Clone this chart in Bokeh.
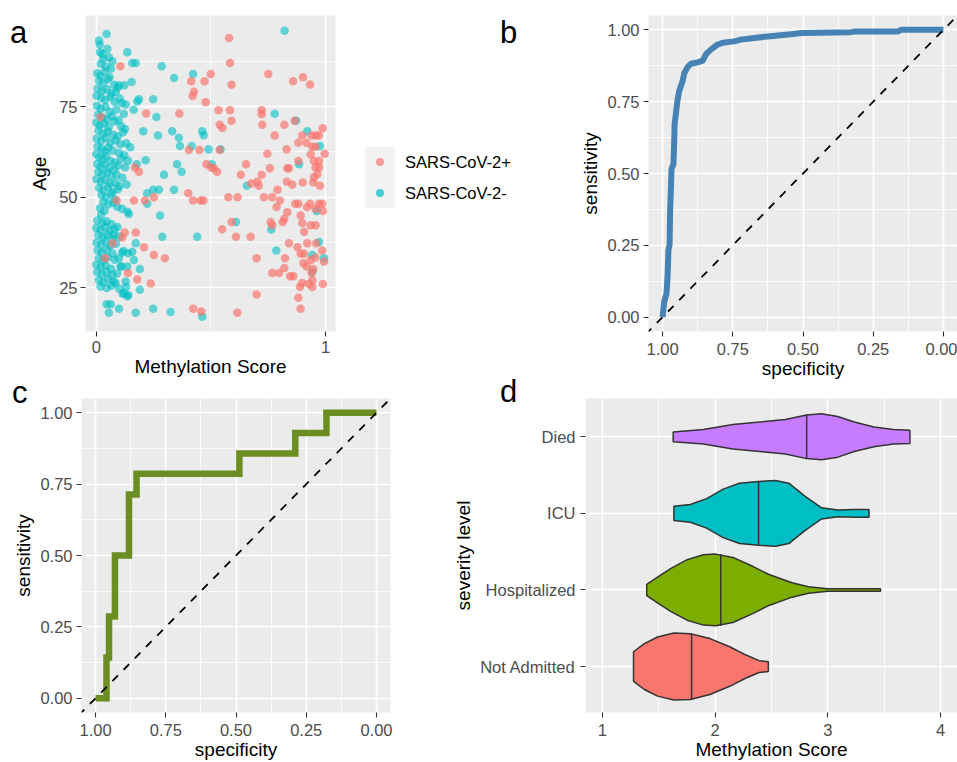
from bokeh.plotting import figure
from bokeh.layouts import row, column
from bokeh.models import Range1d, FixedTicker, PrintfTickFormatter, Div
from bokeh.embed import file_html
from bokeh.resources import INLINE

# ---------------- data ----------------
# Panel a: SARS-CoV-2 positive (red)
pos_x = [0.579, 0.583, 0.590, 0.499, 0.472, 0.414, 0.426, 0.420, 0.477, 0.105, 0.750, 0.858, 0.901, 0.932,
         0.019, 0.217, 0.362, 0.533, 0.583, 0.590, 0.538, 0.550, 0.721, 0.721, 0.724, 0.778, 0.820, 0.865,
         0.898, 0.916, 0.939, 0.956, 0.970, 0.987, 0.881, 0.830, 0.746, 0.404, 0.450, 0.538, 0.942, 0.956,
         0.935, 0.949, 0.971, 0.996, 0.881, 0.653, 0.757, 0.833, 0.840, 0.480, 0.501, 0.513, 0.527, 0.169,
         0.186, 0.630, 0.721, 0.702, 0.676, 0.708, 0.831, 0.855, 0.900, 0.946, 0.975, 0.956, 0.964, 0.949,
         0.971, 0.790, 0.731, 0.767, 0.801, 0.786, 0.576, 0.616, 0.401, 0.422, 0.455, 0.467, 0.251, 0.212,
         0.164, 0.089, 0.868, 0.881, 0.932, 0.971, 0.985, 0.919, 0.956, 0.988, 0.833, 0.820, 0.813, 0.760,
         0.767, 0.891, 0.898, 0.935, 0.956, 0.906, 0.549, 0.590, 0.609, 0.673, 0.172, 0.124, 0.113, 0.071,
         0.840, 0.877, 0.920, 0.959, 0.985, 0.891, 0.906, 0.935, 0.956, 0.993, 0.903, 0.917, 0.946, 0.939,
         0.823, 0.820, 0.797, 0.767, 0.845, 0.859, 0.699, 0.299, 0.251, 0.208, 0.038, 0.179, 0.138, 0.237,
         0.942, 0.927, 0.898, 0.942, 0.988, 0.888, 0.881, 0.699, 0.891, 0.423, 0.458, 0.615]
pos_y = [93.9, 87.0, 81.0, 84.0, 82.0, 82.0, 79.1, 77.9, 76.2, 86.1, 84.0, 82.0, 83.1, 81.1,
         72.1, 73.1, 73.1, 74.0, 74.0, 71.1, 70.0, 69.1, 74.0, 72.9, 70.0, 67.0, 70.0, 71.1,
         67.0, 65.0, 67.0, 67.0, 67.0, 69.0, 65.0, 63.2, 62.0, 63.0, 63.0, 63.0, 63.9, 63.9,
         61.8, 60.0, 60.0, 62.0, 60.0, 59.1, 58.0, 58.0, 58.0, 59.1, 58.2, 57.9, 57.0, 58.2,
         57.0, 56.2, 56.2, 54.3, 53.8, 53.2, 54.3, 53.5, 54.1, 54.1, 53.2, 58.2, 56.4, 55.5,
         58.2, 52.1, 50.0, 50.0, 49.1, 47.3, 50.0, 50.0, 51.1, 49.1, 49.1, 49.1, 50.0, 49.1,
         49.1, 49.1, 48.2, 48.2, 48.2, 48.2, 48.2, 47.3, 46.8, 46.2, 45.9, 44.1, 43.2, 43.2,
         42.3, 45.0, 42.9, 42.3, 42.3, 40.5, 41.2, 43.2, 39.1, 39.1, 40.3, 40.3, 38.9, 37.3,
         37.3, 36.2, 37.3, 37.3, 35.3, 34.4, 34.4, 32.7, 33.4, 32.3, 31.8, 30.9, 30.2, 29.1,
         33.2, 30.5, 29.1, 29.1, 28.2, 28.2, 33.2, 33.2, 34.1, 36.2, 33.2, 27.3, 29.1, 26.2,
         27.1, 26.1, 26.4, 25.3, 26.1, 25.3, 22.3, 23.2, 19.3, 19.3, 18.5, 18.2]

# Panel a: SARS-CoV-2 negative (cyan)
neg_x = [0.821, 0.045, 0.012, 0.015, 0.016, 0.026, 0.048, 0.135, 0.157, 0.172, 0.285, 0.339, 0.422, 0.154,
         0.099, 0.122, 0.186, 0.179, 0.163, 0.248, 0.262, 0.205, 0.269, 0.331, 0.360, 0.365, 0.462, 0.468,
         0.416, 0.490, 0.542, 0.778, 0.871, 0.920, 0.975, 0.884, 0.215, 0.176, 0.295, 0.352, 0.372, 0.339,
         0.273, 0.248, 0.222, 0.222, 0.503, 0.656, 0.278, 0.288, 0.440, 0.609, 0.763, 0.785, 0.971, 0.942,
         0.993, 0.962, 0.942, 0.172, 0.157, 0.164, 0.190, 0.190, 0.128, 0.121, 0.135, 0.084, 0.248, 0.324,
         0.462, 0.172, 0.099, 0.063, 0.045, 0.055, 0.113, 0.099, 0.106, 0.135, 0.092, 0.077,
         0.030, 0.055, 0.070, 0.020, 0.042, 0.064, 0.004, 0.018, 0.036, 0.058,
         0.012, 0.030, 0.050, 0.078, 0.092, 0.006, 0.026, 0.047, 0.066, 0.085, 0.001, 0.021, 0.039, 0.061,
         0.080, 0.102, 0.112, 0.128,
         0.003, 0.019, 0.040, 0.058, 0.088, 0.120, 0.008, 0.027, 0.046, 0.068, 0.097, 0.000, 0.014, 0.034,
         0.054, 0.079, 0.108, 0.125,
         0.010, 0.030, 0.050, 0.073, 0.094, 0.117, 0.002, 0.021, 0.041, 0.061, 0.084, 0.105, 0.131, 0.148,
         0.006, 0.024, 0.037, 0.052, 0.071, 0.099, 0.122,
         0.000, 0.013, 0.028, 0.044, 0.062, 0.082, 0.109, 0.138, 0.004, 0.019, 0.036, 0.056, 0.077, 0.095,
         0.126, 0.009, 0.027, 0.047, 0.066, 0.089, 0.114,
         0.001, 0.020, 0.038, 0.060, 0.083, 0.101, 0.012, 0.030, 0.051, 0.072, 0.094, 0.132, 0.022, 0.043,
         0.063, 0.081, 0.031, 0.052, 0.074, 0.091,
         0.016, 0.036, 0.112, 0.136, 0.021, 0.142, 0.005, 0.026, 0.044, 0.066, 0.000, 0.019, 0.039, 0.058,
         0.079,
         0.009, 0.029, 0.048, 0.069, 0.100, 0.001, 0.021, 0.040, 0.061, 0.086, 0.006, 0.024, 0.046, 0.071,
         0.119, 0.139, 0.011, 0.031, 0.050, 0.080,
         0.000, 0.020, 0.041, 0.064, 0.110, 0.004, 0.025, 0.045, 0.070, 0.091, 0.011, 0.030, 0.051, 0.075,
         0.018, 0.046, 0.066, 0.100, 0.130, 0.115, 0.140]
neg_y = [95.9, 95.0, 93.2, 92.1, 90.0, 89.5, 90.9, 90.0, 87.0, 87.0, 86.1, 82.9, 84.0, 81.8,
         80.9, 80.9, 77.0, 76.4, 74.1, 77.0, 72.1, 68.2, 67.0, 68.2, 66.4, 64.1, 68.2, 67.1,
         64.1, 63.2, 63.2, 73.0, 71.1, 68.2, 64.1, 59.1, 60.2, 59.1, 56.2, 59.1, 57.0, 52.1,
         52.1, 52.1, 51.1, 48.2, 59.1, 53.2, 45.0, 39.1, 39.1, 43.2, 41.1, 35.3, 37.7, 34.1,
         33.2, 46.2, 29.5, 37.3, 35.0, 32.7, 30.2, 24.5, 26.8, 23.6, 22.7, 26.4, 19.3, 18.4,
         17.1, 18.2, 19.3, 20.5, 20.5, 18.2, 34.8, 33.2, 30.9, 30.9, 41.8, 39.5,
         88.2, 88.6, 87.5, 86.8, 86.0, 85.4, 84.2, 83.5, 84.6, 83.1,
         82.1, 81.4, 82.5, 81.0, 80.2, 80.0, 79.3, 79.8, 78.6, 79.0, 78.0, 77.4, 76.8, 77.7,
         76.3, 77.2, 76.0, 75.6,
         75.2, 74.4, 74.9, 73.6, 74.2, 73.0, 72.8, 72.0, 71.5, 72.4, 71.2, 70.6, 69.8, 70.3,
         69.4, 70.9, 69.6, 68.8,
         68.4, 67.6, 68.1, 67.2, 66.8, 67.9, 66.2, 65.5, 66.4, 65.0, 65.7, 64.6, 64.9, 63.8,
         64.0, 63.3, 62.6, 63.7, 62.9, 62.2, 61.6,
         61.9, 61.0, 60.4, 61.3, 60.0, 59.6, 60.6, 60.1, 59.2, 58.5, 59.0, 58.0, 57.5, 58.7,
         58.3, 57.0, 56.4, 56.9, 55.8, 56.2, 55.4,
         55.0, 54.3, 54.8, 53.7, 54.0, 53.1, 52.6, 52.0, 52.8, 51.5, 52.2, 53.5, 50.6, 50.0,
         50.9, 49.4, 48.7, 48.0, 48.5, 47.4,
         47.0, 46.3, 46.8, 46.0, 45.2, 45.4, 43.6, 43.0, 43.4, 42.6, 41.5, 41.0, 41.8, 40.7,
         41.2,
         39.6, 39.0, 39.7, 38.6, 39.2, 37.5, 37.0, 37.8, 36.6, 37.2, 35.4, 34.8, 35.6, 34.5,
         35.2, 34.6, 33.2, 32.6, 33.5, 32.8,
         31.4, 30.8, 31.2, 30.3, 30.9, 29.4, 28.8, 29.3, 28.5, 29.0, 27.2, 26.6, 27.5, 26.8,
         25.4, 25.0, 25.6, 24.8, 25.3, 23.4, 23.0]
legend_labels = ["SARS-CoV-2+", "SARS-CoV-2-"]

# Panel b: ROC curve (specificity, sensitivity)
spec_b = [1.000, 0.994, 0.986, 0.982, 0.979, 0.975, 0.973, 0.968, 0.961, 0.958, 0.957, 0.947, 0.941,
          0.929, 0.923, 0.911, 0.899, 0.875, 0.857, 0.845, 0.827, 0.804, 0.786, 0.745, 0.721, 0.673,
          0.626, 0.543, 0.507, 0.329, 0.317, 0.163, 0.151, 0.000]
sens_b = [0.000, 0.054, 0.082, 0.144, 0.234, 0.251, 0.369, 0.516, 0.533, 0.628, 0.673, 0.752, 0.786,
          0.820, 0.848, 0.870, 0.882, 0.887, 0.893, 0.916, 0.932, 0.949, 0.955, 0.960, 0.966, 0.972,
          0.977, 0.985, 0.989, 0.992, 0.994, 0.994, 1.000, 1.000]

# Panel c: ROC curve (specificity, sensitivity)
spec_c = [1.000, 0.961, 0.961, 0.952, 0.952, 0.931, 0.931, 0.881, 0.881, 0.854, 0.854, 0.488, 0.488,
          0.289, 0.289, 0.178, 0.178, 0.000]
sens_c = [0.000, 0.000, 0.143, 0.143, 0.286, 0.286, 0.500, 0.500, 0.714, 0.714, 0.786, 0.786, 0.857,
          0.857, 0.929, 0.929, 1.000, 1.000]

roc_ticks = [0.0, 0.25, 0.5, 0.75, 1.0]

# Panel d: violin outlines (methylation score, half width) and medians
severity_levels = ["Not Admitted", "Hospitalized", "ICU", "Died"]
severity_colors = ["#F8766D", "#7CAE00", "#00BFC4", "#C77CFF"]
vx_not = [1.276, 1.372, 1.489, 1.634, 1.780, 1.954, 2.129, 2.274, 2.390, 2.472]
vw_not = [0.193, 0.300, 0.386, 0.438, 0.429, 0.365, 0.258, 0.150, 0.077, 0.064]
vx_hosp = [1.393, 1.489, 1.605, 1.751, 1.896, 2.004, 2.158, 2.333, 2.478, 2.682, 2.827, 3.000, 3.467]
vw_hosp = [0.073, 0.167, 0.279, 0.395, 0.459, 0.468, 0.425, 0.309, 0.202, 0.094, 0.043, 0.017, 0.017]
vx_icu = [1.634, 1.780, 1.925, 2.071, 2.216, 2.385, 2.537, 2.653, 2.799, 2.944, 3.089, 3.234, 3.365]
vw_icu = [0.092, 0.116, 0.193, 0.317, 0.394, 0.416, 0.428, 0.394, 0.223, 0.073, 0.043, 0.051, 0.051]
vx_died = [1.628, 1.896, 2.158, 2.420, 2.623, 2.812, 2.943, 3.088, 3.234, 3.408, 3.583, 3.728]
vw_died = [0.064, 0.094, 0.160, 0.195, 0.226, 0.285, 0.300, 0.266, 0.193, 0.129, 0.094, 0.086]
median_scores = [1.791, 2.050, 2.385, 2.812]
median_widths = [0.428, 0.468, 0.416, 0.287]

panel_letters = ["a", "b", "c", "d"]

# ---------------- styling helpers ----------------
FONT = "Liberation Sans"
BG = "#EBEBEB"
RED = "#F8766D"
CYAN = "#00BFC4"
TICK_PX = "16.5px"


def style(p, x_label_standoff=6, y_label_standoff=4, y_title_standoff=3):
    p.background_fill_color = BG
    p.border_fill_color = "white"
    p.outline_line_color = None
    for ax in p.axis:
        ax.axis_line_color = None
        ax.major_tick_line_color = "#333333"
        ax.major_tick_line_width = 1.1
        ax.major_tick_out = 5
        ax.major_tick_in = 0
        ax.minor_tick_out = 0
        ax.minor_tick_in = 0
        ax.major_label_text_font = FONT
        ax.major_label_text_font_size = TICK_PX
        ax.major_label_text_color = "#4D4D4D"
        ax.major_label_text_line_height = 1.0
        ax.axis_label_text_font = FONT
        ax.axis_label_text_font_size = "19px"
        ax.axis_label_text_font_style = "normal"
        ax.axis_label_text_color = "black"
        ax.axis_label_text_line_height = 1.0
    for ax in p.xaxis:
        ax.major_label_standoff = x_label_standoff
        ax.axis_label_standoff = 0
    for ax in p.yaxis:
        ax.major_label_standoff = y_label_standoff
        ax.axis_label_standoff = y_title_standoff
    for g in p.grid:
        g.grid_line_color = "white"
        g.grid_line_width = 1.6
        g.minor_grid_line_color = "white"
        g.minor_grid_line_width = 0.8


def abs_div(html, left, top):
    return Div(text=html, margin=0,
               styles={"position": "absolute", "left": "%dpx" % left, "top": "%dpx" % top,
                       "margin": "0px", "padding": "0px", "line-height": "31px", "font-size": "31px"})


def letter_div(txt, left, top):
    return abs_div('<span style="font-family: \'Liberation Sans\'; font-size: 31px; line-height: 31px; '
                   'color: black;">%s</span>' % txt, left, top)


def legend_div(labels, colors, left, top):
    rgba = []
    for c in colors:
        r, g, b = int(c[1:3], 16), int(c[3:5], 16), int(c[5:7], 16)
        rgba.append("rgba(%d,%d,%d,0.7)" % (r, g, b))
    parts = ['<div style="position: relative; width: 170px; height: 61px;">',
             '<div style="position: absolute; left: 0px; top: 0px; width: 30px; height: 61px; '
             'background: #F2F2F2;"></div>']
    for i, (lab, col) in enumerate(zip(labels, rgba)):
        cy = 15 + 30.5 * i
        parts.append('<div style="position: absolute; left: 11px; top: %.1fpx; width: 8px; height: 8px; '
                     'border-radius: 50%%; background: %s;"></div>' % (cy - 4, col))
        parts.append('<div style="position: absolute; left: 40px; top: %.1fpx; height: 20px; '
                     'line-height: 20px; white-space: nowrap; font-family: \'Liberation Sans\'; '
                     'font-size: %s; color: black;">%s</div>' % (cy - 10, TICK_PX, lab))
    parts.append('</div>')
    return abs_div("".join(parts), left, top)


TOP_H = 396
BOT_H = 762 - TOP_H

# ---------------- panel a ----------------
pa = figure(width=522, height=TOP_H, x_range=Range1d(-0.047, 1.043), y_range=Range1d(13, 100.1),
            min_border_left=85, min_border_right=187, min_border_top=13, min_border_bottom=TOP_H - 331,
            toolbar_location=None, output_backend="svg")
pa.scatter(neg_x, neg_y, size=8.5, fill_color=CYAN, fill_alpha=0.6, line_color=None)
pa.scatter(pos_x, pos_y, size=8.5, fill_color=RED, fill_alpha=0.7, line_color=None)
pa.xaxis.ticker = FixedTicker(ticks=[0, 1], minor_ticks=[0.5])
pa.yaxis.ticker = FixedTicker(ticks=[25, 50, 75], minor_ticks=[37.5, 62.5, 87.5])
pa.xaxis.axis_label = "Methylation Score"
pa.yaxis.axis_label = "Age"
style(pa, 4, 3, 6)

# ---------------- panel b ----------------
pb = figure(width=435, height=TOP_H, x_range=Range1d(1.05, -0.05), y_range=Range1d(-0.05, 1.05),
            min_border_left=126, min_border_right=0, min_border_top=15, min_border_bottom=TOP_H - 340,
            toolbar_location=None, output_backend="svg")
pb.line(spec_b, sens_b, line_width=6, line_color="#4682B4", line_join="round")
pb.line([1.1, -0.1], [-0.1, 1.1], line_width=1.8, line_color="black", line_dash="8 8")
for ax in (pb.xaxis, pb.yaxis):
    ax.ticker = FixedTicker(ticks=roc_ticks, minor_ticks=[0.125, 0.375, 0.625, 0.875])
    ax.formatter = PrintfTickFormatter(format="%.2f")
pb.xaxis.axis_label = "specificity"
pb.yaxis.axis_label = "sensitivity"
style(pb)

# ---------------- panel c ----------------
pc = figure(width=450, height=BOT_H, x_range=Range1d(1.05, -0.05), y_range=Range1d(-0.05, 1.05),
            min_border_left=81, min_border_right=60, min_border_top=0, min_border_bottom=50,
            toolbar_location=None, output_backend="svg")
pc.line(spec_c, sens_c, line_width=6.5, line_color="#6B8E23", line_join="miter")
pc.line([1.1, -0.1], [-0.1, 1.1], line_width=1.8, line_color="black", line_dash="8 8")
for ax in (pc.xaxis, pc.yaxis):
    ax.ticker = FixedTicker(ticks=roc_ticks, minor_ticks=[0.125, 0.375, 0.625, 0.875])
    ax.formatter = PrintfTickFormatter(format="%.2f")
pc.xaxis.axis_label = "specificity"
pc.yaxis.axis_label = "sensitivity"
style(pc)

# ---------------- panel d ----------------
pd_ = figure(width=507, height=BOT_H, x_range=Range1d(0.85, 4.15), y_range=Range1d(0.4, 4.5),
             min_border_left=130, min_border_right=0, min_border_top=398 - TOP_H, min_border_bottom=50,
             toolbar_location=None, output_backend="svg")
violins = [(vx_not, vw_not), (vx_hosp, vw_hosp), (vx_icu, vw_icu), (vx_died, vw_died)]
for i, (vx, vw) in enumerate(violins):
    c = i + 1
    xs = list(vx) + list(vx[::-1])
    ys = [c + w for w in vw] + [c - w for w in vw[::-1]]
    pd_.patch(xs, ys, fill_color=severity_colors[i], line_color="#333333", line_width=1.5)
pd_.segment(x0=median_scores, x1=median_scores,
            y0=[i + 1 - w for i, w in enumerate(median_widths)],
            y1=[i + 1 + w for i, w in enumerate(median_widths)],
            line_color="#333333", line_width=1.5)
pd_.xaxis.ticker = FixedTicker(ticks=[1, 2, 3, 4], minor_ticks=[1.5, 2.5, 3.5])
pd_.yaxis.ticker = FixedTicker(ticks=[1, 2, 3, 4], minor_ticks=[])
pd_.yaxis.major_label_overrides = {i + 1: lab for i, lab in enumerate(severity_levels)}
pd_.xaxis.axis_label = "Methylation Score"
pd_.yaxis.axis_label = "severity level"
style(pd_, 6, 5, 3)

layout = column(row(pa, pb, spacing=0), row(pc, pd_, spacing=0), spacing=0)

div_a = letter_div(panel_letters[0], 10, 17)
div_b = letter_div(panel_letters[1], 500, 17)
div_c = letter_div(panel_letters[2], 12, 377)
div_d = letter_div(panel_letters[3], 500, 376)
div_leg = legend_div(legend_labels, [RED, CYAN], 365, 147)

open("out.html", "w").write(file_html([layout, div_a, div_b, div_c, div_d, div_leg], INLINE))
